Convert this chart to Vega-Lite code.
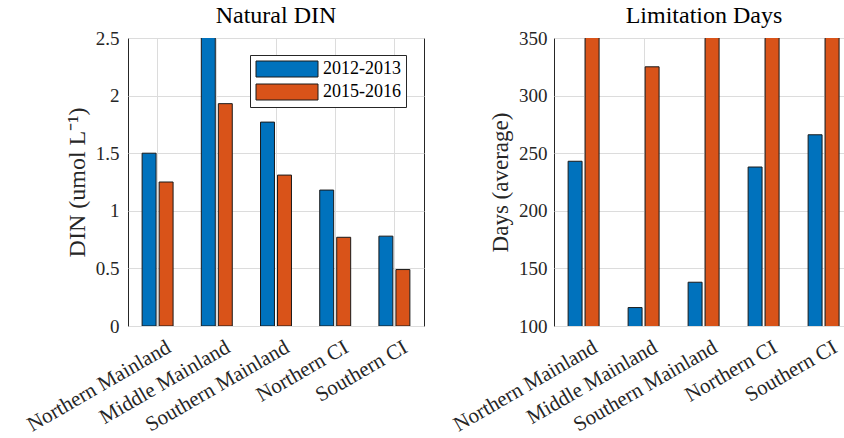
{
  "$schema": "https://vega.github.io/schema/vega-lite/v6.json",
  "background": "white",
  "padding": {"left": 22, "top": 3, "right": 0, "bottom": 0},
  "bounds": "flush",
  "spacing": 130,
  "data": {
    "values": [
      {"region": "Northern Mainland", "period": "2012-2013", "din": 1.5, "days": 243},
      {"region": "Northern Mainland", "period": "2015-2016", "din": 1.25, "days": 365},
      {"region": "Middle Mainland", "period": "2012-2013", "din": 2.6, "days": 116},
      {"region": "Middle Mainland", "period": "2015-2016", "din": 1.93, "days": 325},
      {"region": "Southern Mainland", "period": "2012-2013", "din": 1.77, "days": 138},
      {"region": "Southern Mainland", "period": "2015-2016", "din": 1.31, "days": 365},
      {"region": "Northern CI", "period": "2012-2013", "din": 1.18, "days": 238},
      {"region": "Northern CI", "period": "2015-2016", "din": 0.77, "days": 365},
      {"region": "Southern CI", "period": "2012-2013", "din": 0.78, "days": 266},
      {"region": "Southern CI", "period": "2015-2016", "din": 0.49, "days": 365}
    ]
  },
  "config": {
    "font": "Liberation Serif",
    "view": {"stroke": "#262626", "strokeWidth": 1},
    "title": {"font": "Liberation Serif", "fontSize": 24, "fontWeight": "normal", "color": "#000000", "offset": 1},
    "axis": {
      "labelFont": "Liberation Serif",
      "titleFont": "Liberation Serif",
      "labelColor": "#262626",
      "titleColor": "#262626",
      "titleFontWeight": "normal",
      "domainColor": "#262626",
      "tickColor": "#262626",
      "gridColor": "#dcdcdc",
      "gridWidth": 1
    }
  },
  "resolve": {"legend": {"color": "independent"}},
  "hconcat": [
    {
      "width": 296,
      "height": 288,
      "title": "Natural DIN",
      "mark": {"type": "bar", "clip": true, "stroke": "#1a1a1a", "strokeWidth": 1},
      "encoding": {
        "x": {
          "field": "region",
          "type": "nominal",
          "sort": ["Northern Mainland", "Middle Mainland", "Southern Mainland", "Northern CI", "Southern CI"],
          "scale": {"paddingInner": 0, "paddingOuter": 0},
          "axis": {
            "title": null,
            "labelAngle": -30,
            "labelAlign": "right",
            "labelBaseline": "top",
            "labelFontSize": 21,
            "labelPadding": 10,
            "labelOffset": 6,
            "ticks": false,
            "grid": true,
            "bandPosition": 0.5,
            "domain": false
          }
        },
        "xOffset": {
          "field": "period",
          "type": "nominal",
          "scale": {"paddingInner": 0.18, "paddingOuter": 0.83}
        },
        "y": {
          "field": "din",
          "type": "quantitative",
          "scale": {"domain": [0, 2.5], "nice": false},
          "axis": {
            "title": "DIN (umol L⁻¹)",
            "titleFontSize": 24,
            "titlePadding": 6,
            "values": [0, 0.5, 1, 1.5, 2, 2.5],
            "format": "~g",
            "labelFontSize": 19,
            "labelPadding": 9,
            "ticks": false,
            "domain": false,
            "grid": true
          }
        },
        "color": {
          "field": "period",
          "type": "nominal",
          "scale": {"domain": ["2012-2013", "2015-2016"], "range": ["#0072BD", "#D95319"]},
          "legend": {
            "title": null,
            "orient": "none",
            "legendX": 122,
            "legendY": 17,
            "fillColor": "white",
            "strokeColor": "#262626",
            "padding": 5,
            "symbolType": "M-1,-1H6.75V1H-1Z",
            "symbolSize": 256,
            "symbolStrokeColor": "#1a1a1a",
            "symbolStrokeWidth": 1,
            "symbolOpacity": 1,
            "labelFont": "Liberation Serif",
            "labelFontSize": 18,
            "labelColor": "#000000",
            "labelOffset": 50,
            "rowPadding": 3
          }
        }
      }
    },
    {
      "width": 300,
      "height": 288,
      "title": "Limitation Days",
      "mark": {"type": "bar", "clip": true, "stroke": "#1a1a1a", "strokeWidth": 1},
      "encoding": {
        "x": {
          "field": "region",
          "type": "nominal",
          "sort": ["Northern Mainland", "Middle Mainland", "Southern Mainland", "Northern CI", "Southern CI"],
          "scale": {"paddingInner": 0, "paddingOuter": 0},
          "axis": {
            "title": null,
            "labelAngle": -30,
            "labelAlign": "right",
            "labelBaseline": "top",
            "labelFontSize": 21,
            "labelPadding": 10,
            "labelOffset": 6,
            "ticks": false,
            "grid": true,
            "bandPosition": 0.5,
            "domain": false
          }
        },
        "xOffset": {
          "field": "period",
          "type": "nominal",
          "scale": {"paddingInner": 0.18, "paddingOuter": 0.85}
        },
        "y": {
          "field": "days",
          "type": "quantitative",
          "scale": {"domain": [100, 350], "nice": false, "zero": false},
          "axis": {
            "title": "Days (average)",
            "titleFontSize": 23,
            "titlePadding": 6,
            "values": [100, 150, 200, 250, 300, 350],
            "labelFontSize": 19,
            "labelPadding": 7,
            "ticks": false,
            "domain": false,
            "grid": true
          }
        },
        "color": {
          "field": "period",
          "type": "nominal",
          "scale": {"domain": ["2012-2013", "2015-2016"], "range": ["#0072BD", "#D95319"]},
          "legend": null
        }
      }
    }
  ]
}
